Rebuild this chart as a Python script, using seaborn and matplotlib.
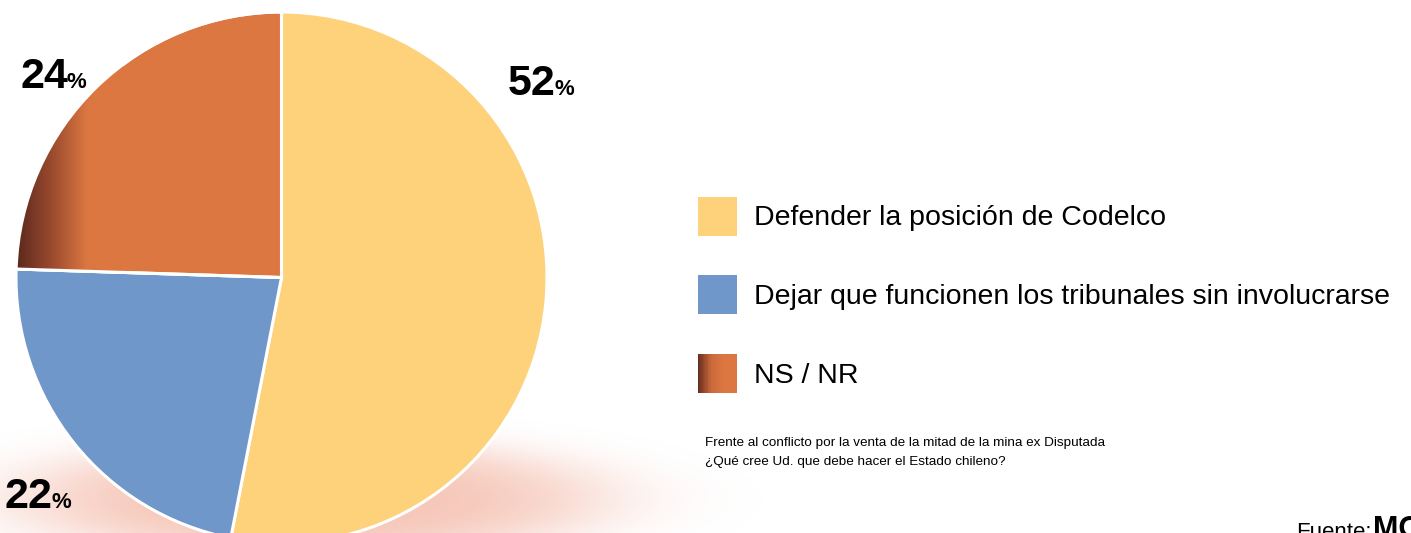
import numpy as np
import seaborn as sns
import matplotlib
matplotlib.use("Agg")
import matplotlib.pyplot as plt
from matplotlib.colors import LinearSegmentedColormap, to_rgb
from matplotlib.patches import Patch, Rectangle, Wedge
from matplotlib.legend_handler import HandlerBase

# data
labels = ["Defender la posición de Codelco",
          "Dejar que funcionen los tribunales sin involucrarse",
          "NS / NR"]
values = [52, 22, 24]
colors = ["#FDD27B", "#7097C9", "#DC7741"]
pct_labels = ["52", "22", "24"]
note = ("Frente al conflicto por la venta de la mitad de la mina ex Disputada\n"
        "¿Qué cree Ud. que debe hacer el Estado chileno?")

sns.set_style("white")
plt.rcParams['font.family'] = ['Liberation Sans', 'DejaVu Sans']
plt.rcParams['text.color'] = 'black'

W, H = 1411, 533
fig = plt.figure(figsize=(W / 100, H / 100), dpi=100)

# background axes in pixel coords, for the reddish glow under the pie
bg = fig.add_axes([0, 0, 1, 1])
bg.set_xlim(0, W)
bg.set_ylim(H, 0)
bg.axis("off")
gx, gy = np.meshgrid(np.linspace(0, W, 500), np.linspace(0, H, 200))
glow = np.zeros((200, 500, 4))
glow[..., :3] = to_rgb("#F2AE9A")
r2 = ((gx - 310) / 300) ** 2 + ((gy - 500) / 60) ** 2
glow[..., 3] = 0.7 * np.exp(-r2 ** 2)
bg.imshow(glow, extent=(0, W, H, 0), aspect="auto", zorder=0)

# pie axes (pie runs off the bottom edge)
R = 265.5
cx, cy = 281.5, 277.5
ax = fig.add_axes([(cx - R) / W, (H - cy - R) / H, 2 * R / W, 2 * R / H])
ax.axis("off")
ax.patch.set_alpha(0)
wedges, _ = ax.pie(values, colors=colors, startangle=90, counterclock=False,
                   radius=1, wedgeprops=dict(edgecolor="white", linewidth=2.2))

# dark shading on the left side of the NS/NR wedge
shade = LinearSegmentedColormap.from_list("shade", ["#5A281C", "#9A4A2E", "#DC7741", "#DC7741"])
grad = np.linspace(0, 1, 256)[None, :]
im = ax.imshow(grad, cmap=shade, extent=(-1, -0.6, -1, 1), aspect="auto", zorder=2)
im.set_clip_path(wedges[2])
edge = Wedge((0, 0), 1, wedges[2].theta1, wedges[2].theta2,
             facecolor="none", edgecolor="white", linewidth=2.2, zorder=3)
ax.add_patch(edge)
ax.set_xlim(-1, 1)
ax.set_ylim(-1, 1)

# percentage labels
pos = {"52": (1.034, 0.687), "24": (-0.804, 0.714), "22": (-0.864, -0.868)}
for p in pct_labels:
    x, y = pos[p]
    ax.text(x, y, p, ha="right", va="baseline", fontsize=31, fontweight="bold", zorder=5)
    ax.text(x - 0.004, y, "%", ha="left", va="baseline", fontsize=16, fontweight="bold", zorder=5)


class GradientHandler(HandlerBase):
    def create_artists(self, legend, orig_handle, xdescent, ydescent, width, height, fontsize, trans):
        n = 30
        cm = LinearSegmentedColormap.from_list("g", ["#6A2E1E", "#C8683A", "#DC7741", "#DC7741"])
        arts = []
        for i in range(n):
            r = Rectangle((-xdescent + width * i / n, -ydescent), width / n + 0.3, height,
                          facecolor=cm(i / (n - 1)), edgecolor="none", transform=trans)
            arts.append(r)
        return arts


handles = [Patch(facecolor=c, edgecolor="none") for c in colors]
leg = fig.legend(handles, labels, loc="upper left", bbox_to_anchor=(672 / W, 1 - 171 / H),
                 frameon=False, fontsize=20.5, handlelength=1.37, handleheight=1.73,
                 handletextpad=0.6, labelspacing=1.4,
                 handler_map={handles[2]: GradientHandler()})

fig.text(705 / W, 1 - 437 / H, note, fontsize=9.7, va="top", ha="left", linespacing=1.8)
fig.text(1296 / W, 1 - 538 / H, "Fuente:", fontsize=16, va="baseline", ha="left")
fig.text(1373 / W, 1 - 538 / H, "MORI", fontsize=22, fontweight="bold", va="baseline", ha="left")

fig.savefig("out.png", dpi=100)
